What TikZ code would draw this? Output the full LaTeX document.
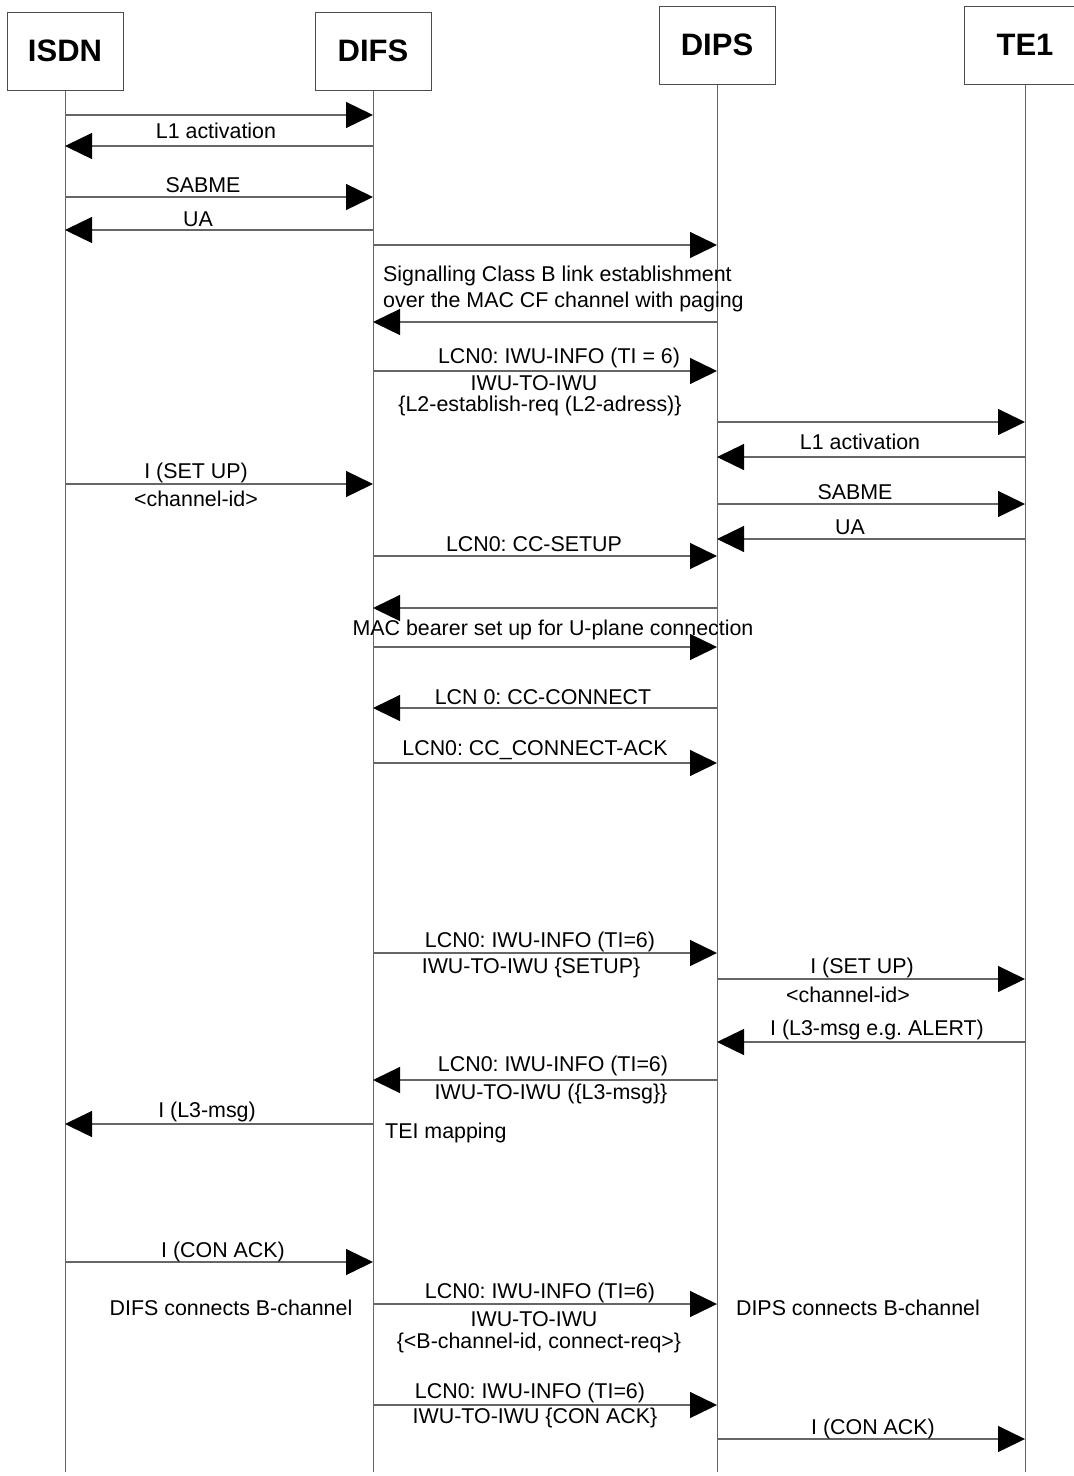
\documentclass[tikz,border=0pt]{standalone}
\usepackage{fontspec}
\setmainfont{Liberation Sans}
\usetikzlibrary{positioning, arrows.meta}
\frenchspacing

\begin{document}
\begin{tikzpicture}[
    % GLOBAL CFG
    x=1pt, y=-1pt,
    font=\fontsize{21.4}{23}\selectfont,
    >={Triangle[length=27pt, width=26pt, color=black]},
    % Styles
    head/.style={% For the boxes on top
        rectangle,
        draw=black!70,
        line width=1pt,
        minimum width=116pt,
        minimum height=78pt,
        font=\fontsize{31}{33}\selectfont\bfseries,
        },
    life/.style={% The vertical lines
        draw=black!60,
        line width=1pt,
        },
    msg/.style={% Arrows between the lines
        draw=black!60,
        line width=1.3pt,
        },
    lbl/.style={% Texts on the arrows
        inner sep=0pt,
        },
    ]

%Start drawing the thing...
    \useasboundingbox (0,0) rectangle (1074,1476);

    % Draw the boxes
    \node[head] (isdn) at (65,51) {ISDN};
    \node[head] (difs) at (373,51) {DIFS};
    \node[head] (dips) at (717,45) {DIPS};
    \node[head, minimum width=122pt] (te) at (1025,45) {TE1};

    % Draw the lines down
    \coordinate (bottom) at (0,1472);
    \foreach \p in {isdn,difs,dips,te}
        \draw[life] (\p.south) -- (\p |- bottom);

% Start connecting all.
    % Messages: row/height/from/to
    \foreach \n/\h/\a/\b in {1/115/isdn/difs, 2/146/difs/isdn, 3/197/isdn/difs,
        4/230/difs/isdn, 5/245/difs/dips, 6/322/dips/difs, 7/371/difs/dips,
        8/422/dips/te, 9/457/te/dips, 10/484/isdn/difs, 11/504/dips/te,
        12/539/te/dips, 13/556/difs/dips, 14/608/dips/difs, 15/647/difs/dips,
        16/708/dips/difs, 17/763/difs/dips, 18/953/difs/dips, 19/979/dips/te,
        20/1042/te/dips, 21/1080/dips/difs, 22/1124/difs/isdn, 23/1262/isdn/difs,
        24/1304/difs/dips, 25/1405/difs/dips, 26/1439/dips/te} {
        \coordinate (r\n) at (0,\h);
        \draw[->, msg] (\a |- r\n) -- (\b |- r\n);
    }

    % Texts: ISDN - DIFS
    \node[lbl] (l2) at (216,131) {L1 activation};
    \node[lbl] (l3) at (203,185) {SABME};
    \node[lbl] (l4) at (198,219) {UA};
    \node[lbl] (l10a) at (196,473) {I (SET UP)};
    \node[lbl] (l10b) at (196,499) {<channel-id>};
    \node[lbl] (l22) at (207,1112) {I (L3-msg)};
    \node[lbl] (l23) at (223,1252) {I (CON ACK)};
    \node[lbl] (difsconn) at (231,1308) {DIFS connects B-channel};

    % Texts: DIFS - DIPS
    \node[lbl, anchor=west] (l6a) at (383,276) {Signalling Class B link establishment};
    \node[lbl, anchor=west] (l6b) at (383,302) {over the MAC CF channel with paging};
    \node[lbl] (l7a) at (559,358) {LCN0: IWU-INFO (TI = 6)};
    \node[lbl] (l7b) at (534,383) {IWU-TO-IWU};
    \node[lbl] (l7c) at (540,406) {\{L2-establish-req (L2-adress)\}};
    \node[lbl] (l13) at (534,544) {LCN0: CC-SETUP};
    \node[lbl] (l14) at (553,630) {MAC bearer set up for U-plane connection};
    \node[lbl] (l16) at (543,697) {LCN 0: CC-CONNECT};
    \node[lbl] (l17) at (535,750) {LCN0: CC\_CONNECT-ACK};
    \node[lbl] (l18a) at (540,942) {LCN0: IWU-INFO (TI=6)};
    \node[lbl] (l18b) at (531,968) {IWU-TO-IWU \{SETUP\}};
    \node[lbl] (l21a) at (553,1066) {LCN0: IWU-INFO (TI=6)};
    \node[lbl] (l21b) at (551,1094) {IWU-TO-IWU (\{L3-msg\}\}};
    \node[lbl, anchor=west] (tei) at (385,1133) {TEI mapping};
    \node[lbl] (l24a) at (540,1293) {LCN0: IWU-INFO (TI=6)};
    \node[lbl] (l24b) at (534,1319) {IWU-TO-IWU};
    \node[lbl] (l24c) at (539,1343) {\{<B-channel-id, connect-req>\}};
    \node[lbl] (l25a) at (530,1393) {LCN0: IWU-INFO (TI=6)};
    \node[lbl] (l25b) at (535,1418) {IWU-TO-IWU \{CON ACK\}};

    % Texts: DIPS - TE1
    \node[lbl] (l9) at (860,442) {L1 activation};
    \node[lbl] (l11) at (855,492) {SABME};
    \node[lbl] (l12) at (850,527) {UA};
    \node[lbl] (l19a) at (862,968) {I (SET UP)};
    \node[lbl] (l19b) at (848,995) {<channel-id>};
    \node[lbl] (l20) at (877,1030) {I (L3-msg e.g. ALERT)};
    \node[lbl] (dipsconn) at (858,1308) {DIPS connects B-channel};
    \node[lbl] (l26) at (873,1429) {I (CON ACK)};

\end{tikzpicture}
\end{document}
